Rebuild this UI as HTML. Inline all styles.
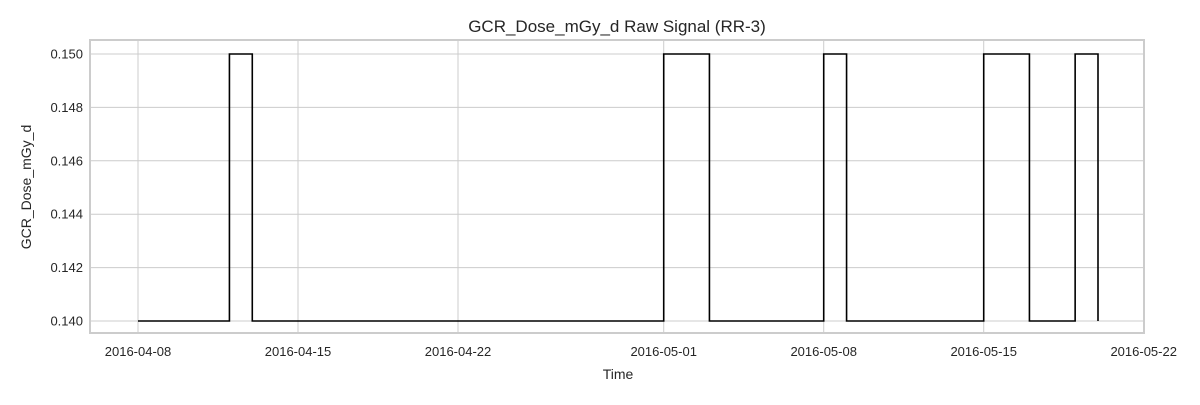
<!DOCTYPE html>
<html><head><meta charset="utf-8"><style>
body{margin:0;background:#fff;font-family:"Liberation Sans",sans-serif}
</style></head><body>
<svg id="chart" width="1200" height="400" xmlns="http://www.w3.org/2000/svg" font-family="Liberation Sans, sans-serif"></svg>
<script>
const dates=['2016-04-08','2016-04-09','2016-04-10','2016-04-11','2016-04-12','2016-04-13','2016-04-14','2016-04-15','2016-04-16','2016-04-17','2016-04-18','2016-04-19','2016-04-20','2016-04-21','2016-04-22','2016-04-23','2016-04-24','2016-04-25','2016-04-26','2016-04-27','2016-04-28','2016-04-29','2016-04-30','2016-05-01','2016-05-02','2016-05-03','2016-05-04','2016-05-05','2016-05-06','2016-05-07','2016-05-08','2016-05-09','2016-05-10','2016-05-11','2016-05-12','2016-05-13','2016-05-14','2016-05-15','2016-05-16','2016-05-17','2016-05-18','2016-05-19','2016-05-20'];
const values=[0.14,0.14,0.14,0.14,0.15,0.14,0.14,0.14,0.14,0.14,0.14,0.14,0.14,0.14,0.14,0.14,0.14,0.14,0.14,0.14,0.14,0.14,0.14,0.15,0.15,0.14,0.14,0.14,0.14,0.14,0.15,0.14,0.14,0.14,0.14,0.14,0.14,0.15,0.15,0.14,0.14,0.15,0.14];
const xTicks=['2016-04-08','2016-04-15','2016-04-22','2016-05-01','2016-05-08','2016-05-15','2016-05-22'];
const yTicks=[0.140,0.142,0.144,0.146,0.148,0.150];
const svg=document.getElementById('chart');
const NS='http://www.w3.org/2000/svg';
const L=90,R=1144,T=40,B=333;
const t0=Date.parse('2016-04-08');
function xs(d){return 138+(Date.parse(d)-t0)/86400000*(160/7);}
function ys(v){return 321-(v-0.140)/0.010*267;}
function mk(tag,attrs,txt){const e=document.createElementNS(NS,tag);for(const k in attrs)e.setAttribute(k,attrs[k]);if(txt!==undefined)e.textContent=txt;svg.appendChild(e);return e;}
let e=mk('rect',{x:L,y:T,width:R-L,height:B-T,fill:'#fff'});


yTicks.forEach(v=>{const y=ys(v);
 let g=mk('line',{x1:L,x2:R,y1:y,y2:y,stroke:'#cccccc','stroke-width':1});
 
 
 let t=mk('text',{x:L-7,y:y+4.5,'text-anchor':'end','font-size':13,fill:'#262626'},v.toFixed(3));
 
 
});
xTicks.forEach(d=>{const x=xs(d);
 let g=mk('line',{x1:x,x2:x,y1:T,y2:B,stroke:'#cccccc','stroke-width':1});
 
 
 let t=mk('text',{x:x,y:B+23,'text-anchor':'middle','font-size':13,fill:'#262626'},d);
 
 
});
let fr=mk('rect',{x:L,y:T,width:R-L,height:B-T,fill:'none',stroke:'#cccccc','stroke-width':2});


let p='';
for(let i=0;i<dates.length;i++){const x=xs(dates[i]),y=ys(values[i]);
 if(i===0)p+='M'+x+','+y;else p+=' H'+x+' V'+y;}
let ln=mk('path',{d:p,fill:'none',stroke:'#000','stroke-width':1.6});


let ti=mk('text',{x:(L+R)/2,y:32,'text-anchor':'middle','font-size':17,fill:'#262626'},'GCR_Dose_mGy_d Raw Signal (RR-3)');


let xl=mk('text',{x:(L+R)/2+1,y:379,'text-anchor':'middle','font-size':14,fill:'#262626'},'Time');


let yl=mk('text',{x:0,y:0,transform:'translate(31,187) rotate(-90)','text-anchor':'middle','font-size':14,fill:'#262626'},'GCR_Dose_mGy_d');


</script>
</body></html>
